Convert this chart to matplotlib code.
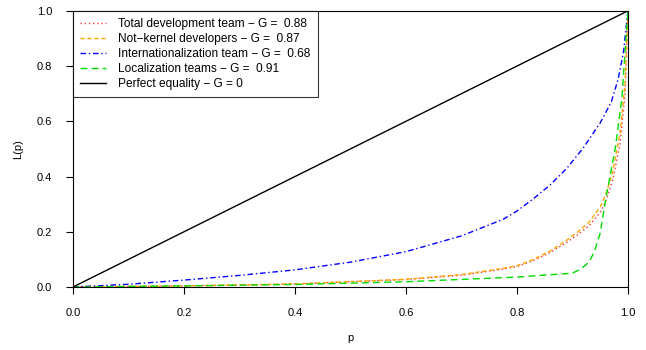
import matplotlib
matplotlib.use("Agg")
import matplotlib.pyplot as plt

plt.rcParams['font.family'] = ['Liberation Sans', 'DejaVu Sans']

# Data
p_total = [0.0, 0.2, 0.4, 0.6, 0.7, 0.77, 0.8, 0.83, 0.86, 0.89, 0.91, 0.93, 0.95, 0.96, 0.973, 0.986, 0.995, 1.0]
L_total = [0.0, 0.004, 0.011, 0.027, 0.043, 0.063, 0.074, 0.096, 0.125, 0.162, 0.19, 0.222, 0.27, 0.31, 0.39, 0.52, 0.70, 1.0]

p_notkernel = [0.0, 0.2, 0.4, 0.6, 0.7, 0.77, 0.8, 0.83, 0.86, 0.89, 0.91, 0.93, 0.95, 0.96, 0.973, 0.986, 0.995, 1.0]
L_notkernel = [0.0, 0.004, 0.011, 0.028, 0.045, 0.066, 0.077, 0.1, 0.13, 0.17, 0.2, 0.235, 0.29, 0.335, 0.42, 0.56, 0.74, 1.0]

p_intl = [0.0, 0.1, 0.2, 0.3, 0.4, 0.5, 0.6, 0.7, 0.775, 0.8, 0.83, 0.86, 0.89, 0.92, 0.95, 0.97, 0.982, 0.992, 1.0]
L_intl = [0.0, 0.01, 0.025, 0.042, 0.062, 0.09, 0.128, 0.185, 0.245, 0.275, 0.32, 0.37, 0.43, 0.505, 0.594, 0.67, 0.75, 0.85, 1.0]

p_local = [0.0, 0.2, 0.4, 0.6, 0.8, 0.9, 0.915, 0.93, 0.94, 0.95, 0.962, 0.977, 0.989, 1.0]
L_local = [0.0, 0.004, 0.009, 0.019, 0.036, 0.05, 0.065, 0.09, 0.13, 0.195, 0.34, 0.5, 0.68, 1.0]

p_equal = [0.0, 1.0]
L_equal = [0.0, 1.0]

labels = [
    "Total development team \u2212 G =  0.88",
    "Not\u2212kernel developers \u2212 G =  0.87",
    "Internationalization team \u2212 G =  0.68",
    "Localization teams \u2212 G =  0.91",
    "Perfect equality \u2212 G = 0",
]

fig = plt.figure(figsize=(6.46, 3.5), dpi=100)
ax = fig.add_axes([0.113, 0.18, 0.859, 0.789])

ax.plot(p_total, L_total, color='#FF3333', linestyle=(0, (1, 2)), lw=1.0, label=labels[0])
ax.plot(p_notkernel, L_notkernel, color='#FFA500', linestyle=(0, (3, 2)), lw=1.0, label=labels[1])
ax.plot(p_intl, L_intl, color='#0000FF', linestyle=(0, (4, 2, 1, 2)), lw=1.0, label=labels[2])
ax.plot(p_local, L_local, color='#00DD00', linestyle=(0, (5, 3)), lw=1.0, label=labels[3])
ax.plot(p_equal, L_equal, color='black', linestyle='-', lw=1.0, label=labels[4])

ax.set_xlim(0, 1)
ax.set_ylim(0, 1)
ticks = [0.0, 0.2, 0.4, 0.6, 0.8, 1.0]
ax.set_xticks(ticks)
ax.set_yticks(ticks)
ax.set_xticklabels([f"{t:.1f}" for t in ticks], fontsize=8)
ax.set_yticklabels([f"{t:.1f}" for t in ticks], fontsize=8)
ax.tick_params(direction='out', length=5, width=0.8, pad=10)
for s in ax.spines.values():
    s.set_linewidth(0.8)

ax.set_xlabel("p", fontsize=8, labelpad=11)
ax.set_ylabel("L(p)", fontsize=8, labelpad=10)

leg = ax.legend(loc='upper left', fontsize=8.6, frameon=True, fancybox=False,
                edgecolor='black', borderaxespad=0, handlelength=2.2,
                handletextpad=1.0, labelspacing=0.25, borderpad=0.6)
leg.get_frame().set_linewidth(0.8)

fig.savefig("out.png", dpi=100)
